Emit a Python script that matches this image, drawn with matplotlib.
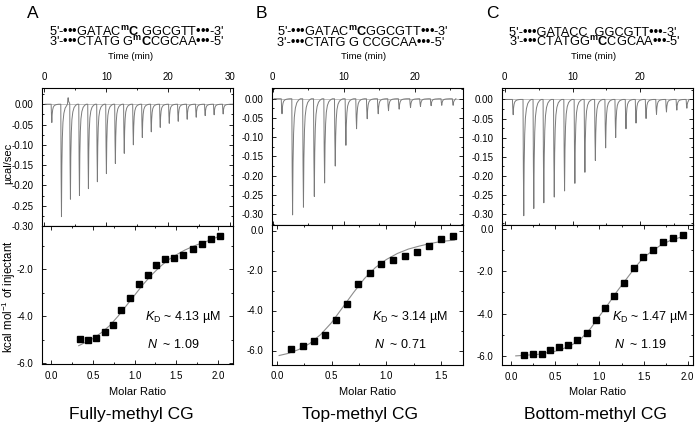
import numpy as np
import matplotlib
matplotlib.use("Agg")
import matplotlib.pyplot as plt
from matplotlib.ticker import MultipleLocator, FormatStrFormatter

plt.rcParams["font.family"] = ["Liberation Sans", "DejaVu Sans"]
plt.rcParams["mathtext.fontset"] = "custom"
plt.rcParams["mathtext.rm"] = "Liberation Sans"
plt.rcParams["mathtext.it"] = "Liberation Sans:italic"
plt.rcParams["mathtext.bf"] = "Liberation Sans:bold"
plt.rcParams["axes.unicode_minus"] = False

# ---------------------------------------------------------
# Raw ITC data: injection times (min) and peak heights (ucal/sec)
# ---------------------------------------------------------
inj_time_A = [1.08, 2.64, 4.09, 5.55, 7.00, 8.45, 9.91, 11.36, 12.80, 14.27,
              15.72, 17.17, 18.62, 20.08, 21.53, 22.98, 24.44, 25.89, 27.34, 28.80]
peak_A = [-0.045, -0.277, -0.234, -0.225, -0.208, -0.191, -0.171, -0.146, -0.121, -0.100,
          -0.082, -0.068, -0.057, -0.047, -0.042, -0.037, -0.032, -0.028, -0.026, -0.024]
spike_A = [(3.72, 0.016)]

inj_time_B = [1.20, 2.69, 4.22, 5.75, 7.20, 8.70, 10.20, 11.70, 13.20, 14.75,
              16.20, 17.70, 19.30, 20.70, 22.20, 23.70, 25.30]
peak_B = [-0.039, -0.302, -0.282, -0.254, -0.219, -0.175, -0.121, -0.078, -0.052, -0.039,
          -0.031, -0.027, -0.023, -0.020, -0.018, -0.017, -0.017]

inj_time_C = [1.14, 2.70, 4.18, 5.66, 7.20, 8.72, 10.24, 11.72, 13.26, 14.78,
              16.26, 17.78, 19.26, 20.74, 22.28, 23.75, 25.28, 26.76]
peak_C = [-0.040, -0.305, -0.286, -0.271, -0.256, -0.240, -0.220, -0.191, -0.160, -0.127,
          -0.100, -0.077, -0.062, -0.050, -0.039, -0.033, -0.028, -0.023]

# ---------------------------------------------------------
# Integrated heats (kcal/mol of injectant) vs molar ratio
# ---------------------------------------------------------
ratio_A = [0.345, 0.44, 0.54, 0.64, 0.74, 0.84, 0.95, 1.05, 1.16, 1.26,
           1.37, 1.47, 1.58, 1.70, 1.81, 1.92, 2.03]
heat_A = [-4.96, -5.02, -4.94, -4.68, -4.37, -3.72, -3.21, -2.62, -2.23, -1.82,
          -1.57, -1.50, -1.38, -1.13, -0.91, -0.71, -0.58]
fit_x_A = [0.33, 0.5, 0.6, 0.7, 0.8, 0.9, 1.0, 1.1, 1.2, 1.3, 1.4, 1.5, 1.6, 1.7, 1.8, 1.9, 2.04]
fit_y_A = [-5.25, -4.95, -4.7, -4.4, -4.0, -3.55, -3.1, -2.65, -2.25, -1.9, -1.6, -1.38,
           -1.18, -1.02, -0.88, -0.76, -0.55]

ratio_B = [0.133, 0.236, 0.336, 0.436, 0.536, 0.639, 0.745, 0.848, 0.955, 1.06,
           1.17, 1.28, 1.39, 1.50, 1.61]
heat_B = [-5.91, -5.78, -5.53, -5.24, -4.47, -3.69, -2.66, -2.11, -1.66, -1.46,
          -1.29, -1.07, -0.75, -0.40, -0.25]
fit_x_B = [0.02, 0.1, 0.2, 0.3, 0.4, 0.5, 0.6, 0.7, 0.8, 0.9, 1.0, 1.1, 1.2, 1.3, 1.4, 1.5, 1.62]
fit_y_B = [-6.25, -6.15, -5.95, -5.65, -5.2, -4.6, -3.85, -3.1, -2.4, -1.85, -1.45, -1.15,
           -0.93, -0.78, -0.65, -0.55, -0.48]

ratio_C = [0.143, 0.245, 0.343, 0.44, 0.54, 0.645, 0.75, 0.853, 0.958, 1.064,
           1.17, 1.283, 1.389, 1.498, 1.61, 1.72, 1.83, 1.95]
heat_C = [-5.97, -5.89, -5.92, -5.72, -5.57, -5.48, -5.26, -4.91, -4.33, -3.75,
          -3.17, -2.54, -1.87, -1.32, -0.99, -0.63, -0.44, -0.30]
fit_x_C = [0.05, 0.3, 0.5, 0.6, 0.7, 0.8, 0.9, 1.0, 1.1, 1.2, 1.3, 1.4, 1.5, 1.6, 1.7, 1.8, 1.95]
fit_y_C = [-6.0, -5.93, -5.78, -5.64, -5.45, -5.15, -4.7, -4.12, -3.55, -2.95, -2.4, -1.85,
           -1.35, -1.05, -0.76, -0.56, -0.36]

seq_top = [r"5'-•••GATAC$^{\mathbf{m}}\mathbf{C}$ GGCGTT•••-3'",
           r"5'-•••GATAC$^{\mathbf{m}}\mathbf{C}$GGCGTT•••-3'",
           r"5'-•••GATACC  GGCGTT•••-3'"]
seq_bot = [r"3'-•••CTATG G$^{\mathbf{m}}\mathbf{C}$CGCAA•••-5'",
           r"3'-•••CTATG G CCGCAA•••-5'",
           r"3'-•••CTATGG$^{\mathbf{m}}\mathbf{C}$CGCAA•••-5'"]
kd_text = [r"$K_{\mathrm{D}}$ ~ 4.13 µM", r"$K_{\mathrm{D}}$ ~ 3.14 µM", r"$K_{\mathrm{D}}$ ~ 1.47 µM"]
n_text = [r"$N$  ~ 1.09", r"$N$  ~ 0.71", r"$N$  ~ 1.19"]
titles = ["Fully-methyl CG", "Top-methyl CG", "Bottom-methyl CG"]
letters = ["A", "B", "C"]

# peak shape (time after injection, fraction of peak height) -- drawing style only
shape_dt = [0.0, 0.05, 0.11, 0.17, 0.25, 0.35, 0.5, 0.7, 0.95, 1.2]
shape_frac = [0.0, 0.6, 1.0, 0.55, 0.3, 0.16, 0.08, 0.035, 0.012, 0.0]


def build_trace(t0, t1, times, peaks, extra=()):
    events = sorted(list(zip(times, peaks)) + list(extra))
    tt, yy = [t0], [0.0]
    for k, (ti, pi) in enumerate(events):
        t_next = events[k + 1][0] if k + 1 < len(events) else t1
        for dt, fr in zip(shape_dt, shape_frac):
            if ti + dt < t_next:
                tt.append(ti + dt)
                yy.append(pi * fr)
    tt.append(t1)
    yy.append(0.0)
    return tt, yy


W, H = 696, 429
fig = plt.figure(figsize=(W / 100, H / 100), dpi=100)


def rect(l, t, r, b):
    return [l / W, 1 - b / H, (r - l) / W, (b - t) / H]


def ftext(x, y, s, **kw):
    fig.text(x / W, 1 - y / H, s, **kw)


def style(ax):
    for sp in ax.spines.values():
        sp.set_linewidth(0.8)
    ax.tick_params(which="both", direction="in", top=True, bottom=True,
                   left=True, right=True, labelsize=7, width=0.6)
    ax.tick_params(which="major", length=2.8)
    ax.tick_params(which="minor", length=1.6)


panels = [
    dict(x0=42, x1=233, top_t=88, mid=226, bot=364,
         t=inj_time_A, p=peak_A, extra=spike_A, trange=(0.1, 30.5),
         txlim=(-0.4, 30.5), tylim=(-0.30, 0.04),
         r=ratio_A, h=heat_A, fx=fit_x_A, fy=fit_y_A,
         bxlim=(-0.11, 2.18), bylim=(-6.03, -0.15),
         kd=(145, 317), n=(147, 344), seq_x=49, time_x=131, letter_x=33,
         title_x=131, mr_x=138),
    dict(x0=272, x1=463, top_t=88, mid=224.5, bot=364.5,
         t=inj_time_B, p=peak_B, extra=(), trange=(0.2, 25.8),
         txlim=(-0.1, 26.8), tylim=(-0.327, 0.028),
         r=ratio_B, h=heat_B, fx=fit_x_B, fy=fit_y_B,
         bxlim=(-0.045, 1.70), bylim=(-6.7, 0.3),
         kd=(372, 317), n=(374, 344), seq_x=277, time_x=364, letter_x=261,
         title_x=360, mr_x=368),
    dict(x0=502, x1=692.5, top_t=88, mid=224.5, bot=365,
         t=inj_time_C, p=peak_C, extra=(), trange=(0.15, 27.2),
         txlim=(-0.4, 27.7), tylim=(-0.328, 0.030),
         r=ratio_C, h=heat_C, fx=fit_x_C, fy=fit_y_C,
         bxlim=(-0.106, 2.055), bylim=(-6.43, 0.2),
         kd=(612, 317), n=(614, 344), seq_x=509, time_x=594, letter_x=492,
         title_x=595, mr_x=598),
]

for i, pn in enumerate(panels):
    # raw heat trace
    ax1 = fig.add_axes(rect(pn["x0"], pn["top_t"], pn["x1"], pn["mid"]))
    tt, yy = build_trace(pn["trange"][0], pn["trange"][1], pn["t"], pn["p"], pn["extra"])
    ax1.axhline(0, color="#b4b4b4", lw=0.6, zorder=1)
    ax1.plot(tt, yy, color="#7a7a7a", lw=0.7, zorder=2)
    ax1.set_xlim(*pn["txlim"])
    ax1.set_ylim(*pn["tylim"])
    style(ax1)
    ax1.tick_params(axis="x", labeltop=True, labelbottom=False, pad=4.5)
    ax1.tick_params(axis="y", pad=6)
    ax1.xaxis.set_major_locator(MultipleLocator(10))
    ax1.xaxis.set_minor_locator(MultipleLocator(5))
    ax1.yaxis.set_major_locator(MultipleLocator(0.05))
    ax1.yaxis.set_minor_locator(MultipleLocator(0.025))
    ax1.yaxis.set_major_formatter(FormatStrFormatter("%.2f"))

    # integrated heats
    ax2 = fig.add_axes(rect(pn["x0"], pn["mid"], pn["x1"], pn["bot"]))
    ax2.plot(pn["fx"], pn["fy"], color="#8c8c8c", lw=0.8, zorder=2)
    ax2.plot(pn["r"], pn["h"], "s", color="black", ms=4.3, zorder=3)
    ax2.set_xlim(*pn["bxlim"])
    ax2.set_ylim(*pn["bylim"])
    style(ax2)
    ax2.tick_params(axis="x", pad=5)
    ax2.tick_params(axis="y", pad=6)
    ax2.xaxis.set_major_locator(MultipleLocator(0.5))
    ax2.xaxis.set_minor_locator(MultipleLocator(0.25))
    ax2.yaxis.set_major_locator(MultipleLocator(2.0))
    ax2.yaxis.set_minor_locator(MultipleLocator(1.0))
    ax2.xaxis.set_major_formatter(FormatStrFormatter("%.1f"))
    ax2.yaxis.set_major_formatter(FormatStrFormatter("%.1f"))

    kx, ky = pn["kd"]
    ftext(kx, ky, kd_text[i], fontsize=9, va="center", ha="left",
          bbox=dict(facecolor="white", edgecolor="none", pad=0.5))
    nx, ny = pn["n"]
    ftext(nx, ny, n_text[i], fontsize=9, va="center", ha="left")

    # labels and headers
    ftext(pn["letter_x"], 13, letters[i], fontsize=12.5, ha="center", va="center")
    ftext(pn["seq_x"], 35.5, seq_top[i], fontsize=9.2, ha="left", va="baseline")
    ftext(pn["seq_x"], 46.3, seq_bot[i], fontsize=9.2, ha="left", va="baseline")
    ftext(pn["time_x"], 56.5, "Time (min)", fontsize=6.8, ha="center", va="center")
    ftext(pn["mr_x"], 392, "Molar Ratio", fontsize=8, ha="center", va="center")
    ftext(pn["title_x"], 415, titles[i], fontsize=12.5, ha="center", va="center")

ftext(8.5, 163, "µcal/sec", fontsize=8, rotation=90, ha="center", va="center")
ftext(9, 297, r"kcal mol$^{-1}$ of injectant", fontsize=8.3, rotation=90,
      ha="center", va="center")

fig.savefig("out.png", dpi=100)
plt.close(fig)
